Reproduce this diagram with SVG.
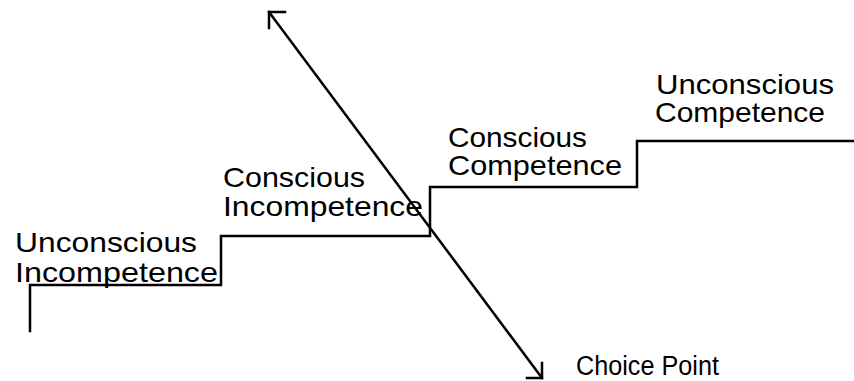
<svg xmlns="http://www.w3.org/2000/svg" width="854" height="381" viewBox="0 0 854 381">
<style>
.ln{fill:none;stroke:#000;stroke-width:2.5;stroke-linecap:square;stroke-linejoin:miter}
.t{font-family:"Liberation Sans",Arial,sans-serif;font-size:28px;fill:#000}
</style>
<rect width="854" height="381" fill="#fff"/>
<g id="connectors">
<path id="staircase" class="ln" d="M30,331 V285 H221 V236 H430 V187 H637 V141 H854"/>
<line id="choice-axis" class="ln" x1="269" y1="12" x2="542" y2="378"/>
<path id="arrow-top" class="ln" d="M285,12 H269 V28"/>
<path id="arrow-bottom" class="ln" d="M542,363 V378 H527"/>
</g>
<g id="unconscious-incompetence">
<text class="t" x="15" y="252" textLength="182" lengthAdjust="spacingAndGlyphs">Unconscious</text>
<text class="t" x="15" y="282" textLength="203" lengthAdjust="spacingAndGlyphs">Incompetence</text>
</g>
<g id="conscious-incompetence">
<text class="t" x="223" y="187" textLength="142" lengthAdjust="spacingAndGlyphs">Conscious</text>
<text class="t" x="223" y="216" textLength="200" lengthAdjust="spacingAndGlyphs">Incompetence</text>
</g>
<g id="conscious-competence">
<text class="t" x="448" y="147" textLength="139" lengthAdjust="spacingAndGlyphs">Conscious</text>
<text class="t" x="448" y="175" textLength="174" lengthAdjust="spacingAndGlyphs">Competence</text>
</g>
<g id="unconscious-competence">
<text class="t" x="656" y="94" textLength="178" lengthAdjust="spacingAndGlyphs">Unconscious</text>
<text class="t" x="655" y="122" textLength="170" lengthAdjust="spacingAndGlyphs">Competence</text>
</g>
<g id="choice-point">
<text class="t" x="576" y="375" style="font-size:27px" textLength="143" lengthAdjust="spacingAndGlyphs">Choice Point</text>
</g>
</svg>
